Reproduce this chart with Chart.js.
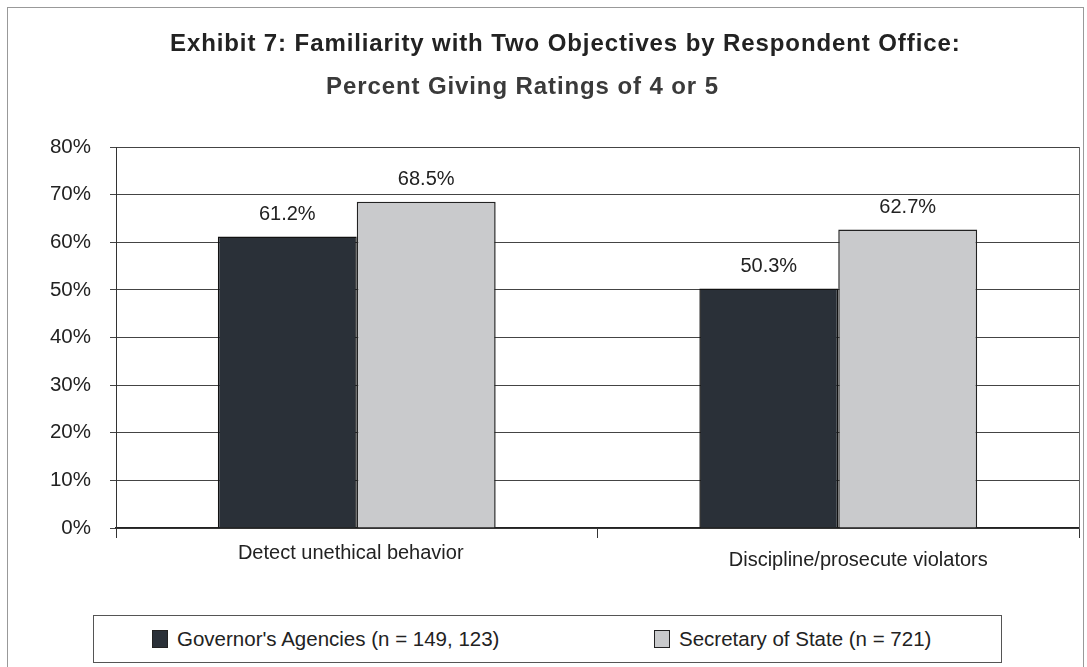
<!DOCTYPE html>
<html><head><meta charset="utf-8">
<script src="https://cdn.jsdelivr.net/npm/chart.js@4"></script>
<style>
html,body{margin:0;padding:0;background:#fff;}
#wrap{position:relative;width:1087px;height:667px;overflow:hidden;font-family:"Liberation Sans",Arial,sans-serif;color:#222;}
#frame{position:absolute;left:7px;top:7px;width:1077px;height:720px;border:1px solid #999;box-sizing:border-box;}
canvas{position:absolute;left:0;top:0;}
.title{position:absolute;white-space:nowrap;font-weight:bold;font-size:24px;line-height:28px;letter-spacing:0.9px;}
#legend{position:absolute;left:93px;top:615px;width:909px;height:48px;border:1px solid #555;box-sizing:border-box;background:#fff;}
.item{position:absolute;top:0;height:46px;display:flex;align-items:center;font-size:20.5px;white-space:nowrap;}
.sw{display:inline-block;width:16px;height:18px;border:1px solid #222;box-sizing:border-box;margin-right:9px;}
</style></head>
<body><div id="wrap">
<div id="frame"></div>
<canvas id="c" width="1087" height="667"></canvas>
<div class="title" id="t1" style="left:170px;top:29px;">Exhibit 7: Familiarity with Two Objectives by Respondent Office:</div>
<div class="title" id="t2" style="left:326px;top:72px;color:#3a3a3a;">Percent Giving Ratings of 4 or 5</div>
<div id="legend"></div>
</div>
<script>
const categories = ['Detect unethical behavior', 'Discipline/prosecute violators'];
const seriesNames = ["Governor's Agencies (n = 149, 123)", 'Secretary of State (n = 721)'];
const governorValues = [61.2, 50.3];
const secretaryValues = [68.5, 62.7];
const yTickValues = [0, 10, 20, 30, 40, 50, 60, 70, 80];
const seriesColors = ['#2a3038', '#c9cacc'];

const FONT = '"Liberation Sans", Arial, sans-serif';
const labelOffsets = [{dx: -6, y: 553}, {dx: 20, y: 560}];

const extras = {
  id: 'extras',
  afterDatasetsDraw(chart) {
    const ctx = chart.ctx;
    const a = chart.chartArea;
    ctx.save();
    ctx.strokeStyle = '#666';
    ctx.lineWidth = 1;
    ctx.beginPath();
    ctx.moveTo(a.right + 0.5, a.top);
    ctx.lineTo(a.right + 0.5, a.bottom);
    ctx.stroke();
    ctx.fillStyle = '#222';
    ctx.font = '20px ' + FONT;
    ctx.textAlign = 'center';
    ctx.textBaseline = 'middle';
    chart.data.datasets.forEach((ds, di) => {
      const meta = chart.getDatasetMeta(di);
      meta.data.forEach((bar, i) => {
        ctx.fillText(ds.data[i].toFixed(1) + '%', bar.x, bar.y - 22);
      });
    });
    const xs = chart.scales.x;
    categories.forEach((c, i) => {
      ctx.fillText(c, xs.getPixelForValue(i) + labelOffsets[i].dx, labelOffsets[i].y);
    });
    ctx.restore();
  }
};

const chart = new Chart(document.getElementById('c'), {
  type: 'bar',
  data: {
    labels: categories,
    datasets: [
      {label: seriesNames[0], data: governorValues, backgroundColor: seriesColors[0], borderColor: '#111', borderWidth: 1.5, categoryPercentage: 0.577, barPercentage: 1},
      {label: seriesNames[1], data: secretaryValues, backgroundColor: seriesColors[1], borderColor: '#222', borderWidth: 1.5, categoryPercentage: 0.577, barPercentage: 1}
    ]
  },
  options: {
    responsive: false,
    animation: false,
    layout: {padding: {top: 147, right: 8, left: 0, bottom: 0}},
    plugins: {legend: {display: false}, title: {display: false}, tooltip: {enabled: false}},
    scales: {
      x: {
        grid: {display: true, drawOnChartArea: false, drawTicks: true, tickLength: 10, offset: true, color: '#333', lineWidth: 1},
        border: {display: true, color: '#222', width: 1.5},
        ticks: {display: false},
        afterFit(s) { s.height = 139; }
      },
      y: {
        min: 0, max: 80,
        afterBuildTicks(s) { s.ticks = yTickValues.map(v => ({value: v})); },
        ticks: {callback: v => v + '%', font: {size: 20.5, family: FONT}, color: '#222', padding: 19},
        grid: {color: '#444', lineWidth: 1, tickLength: 6},
        border: {display: true, color: '#333', width: 1},
        afterFit(s) { s.width = 116; }
      }
    }
  },
  plugins: [extras]
});

const legend = document.getElementById('legend');
const itemLefts = [58, 560];
chart.data.datasets.forEach((ds, i) => {
  const it = document.createElement('div');
  it.className = 'item';
  it.style.left = itemLefts[i] + 'px';
  const sw = document.createElement('span');
  sw.className = 'sw';
  sw.style.background = ds.backgroundColor;
  it.appendChild(sw);
  it.appendChild(document.createTextNode(ds.label));
  legend.appendChild(it);
});
</script>
</body></html>
